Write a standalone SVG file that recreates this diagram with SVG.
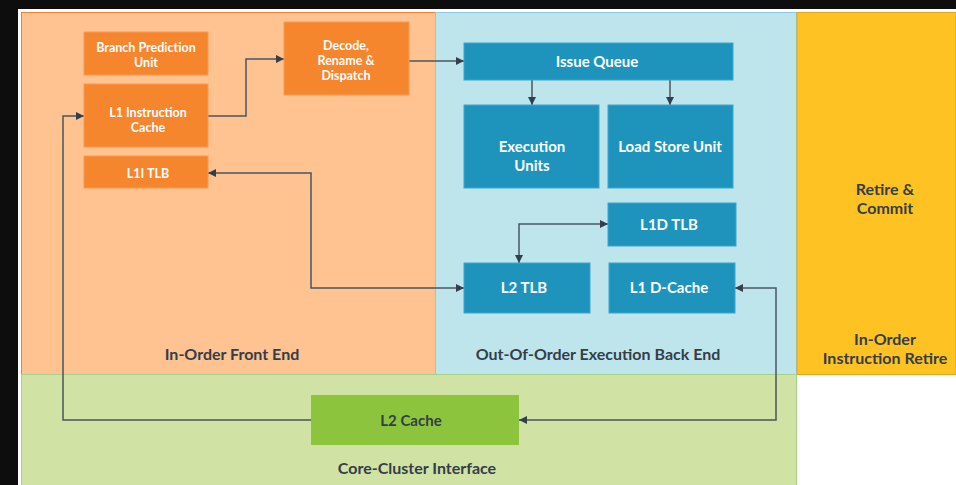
<svg xmlns="http://www.w3.org/2000/svg" width="956" height="485" viewBox="0 0 956 485">
  <defs>
    <marker id="arrow" viewBox="0 0 10 10" refX="10" refY="5" markerWidth="8" markerHeight="8" markerUnits="userSpaceOnUse" orient="auto-start-reverse">
      <path d="M0,0 L10,5 L0,10 z" fill="#333f4a"/>
    </marker>
    <style>
      text { font-family: Lato, "Open Sans", "Liberation Sans", sans-serif; font-weight: bold; text-anchor: middle; dominant-baseline: central; }
      .lite { fill: #ffffff; }
      .dark { fill: #333e49; }
      .s12 { font-size: 12.5px; }
      .s15 { font-size: 15px; }
      .s16 { font-size: 16px; }
      .orange { fill: #f5862e; stroke: #fa9a52; stroke-width: 1; }
      .blue { fill: #1e94bc; stroke: #3aa6cc; stroke-width: 1; }
      .green { fill: #8dc43e; }
      .wire { fill: none; stroke: #4a5661; stroke-width: 1.5; }
    </style>
  </defs>

  <!-- page -->
  <rect x="0" y="0" width="956" height="485" fill="#0d0d0d"/>
  <rect x="18" y="9" width="938" height="476" fill="#ffffff"/>

  <!-- stage panels -->
  <g id="front-end-panel">
    <rect x="21.5" y="12.5" width="414" height="362" fill="#fec391" stroke="#e8843c" stroke-width="1"/>
    <text class="dark s16" x="232" y="353">In-Order Front End</text>
  </g>
  <g id="back-end-panel">
    <rect x="435.5" y="12.5" width="361" height="362" fill="#bee5ec" stroke="#8ec9e6" stroke-width="1"/>
    <text class="dark s16" x="598" y="353">Out-Of-Order Execution Back End</text>
  </g>
  <g id="retire-panel">
    <rect x="797" y="12.5" width="159" height="362" fill="#fec222" stroke="#e0a820" stroke-width="1"/>
    <text class="dark s16" x="885" y="188">Retire &amp;</text>
    <text class="dark s16" x="885" y="207">Commit</text>
    <text class="dark s16" x="885" y="338">In-Order</text>
    <text class="dark s16" x="885" y="357">Instruction Retire</text>
  </g>
  <g id="interface-panel">
    <rect x="21.5" y="374.5" width="775" height="112" fill="#d0e2a4" stroke="#a8d08a" stroke-width="1"/>
    <text class="dark s16" x="417" y="467">Core-Cluster Interface</text>
  </g>

  <!-- connectors -->
  <g id="connectors">
    <path class="wire" d="M208,116 H246 V59 H284" marker-end="url(#arrow)"/>
    <path class="wire" d="M409,61 H464" marker-end="url(#arrow)"/>
    <path class="wire" d="M532,80 V105" marker-end="url(#arrow)"/>
    <path class="wire" d="M670,80 V105" marker-end="url(#arrow)"/>
    <path class="wire" d="M208,173 H311 V288 H464" marker-start="url(#arrow)" marker-end="url(#arrow)"/>
    <path class="wire" d="M608,224 H519 V263" marker-start="url(#arrow)" marker-end="url(#arrow)"/>
    <path class="wire" d="M735,288 H776 V420 H519" marker-start="url(#arrow)" marker-end="url(#arrow)"/>
    <path class="wire" d="M311,420 H63 V116 H84" marker-end="url(#arrow)"/>
  </g>

  <!-- front end -->
  <g id="branch-prediction">
    <rect class="orange" x="84" y="32" width="124" height="43"/>
    <text class="lite s12" x="146" y="47">Branch Prediction</text>
    <text class="lite s12" x="146" y="62">Unit</text>
  </g>
  <g id="l1-icache">
    <rect class="orange" x="84" y="84" width="124" height="63"/>
    <text class="lite s12" x="148" y="112">L1 Instruction</text>
    <text class="lite s12" x="148" y="127">Cache</text>
  </g>
  <g id="l1i-tlb">
    <rect class="orange" x="84" y="156" width="124" height="32"/>
    <text class="lite s12" x="148" y="173">L1I TLB</text>
  </g>
  <g id="decode">
    <rect class="orange" x="284" y="22" width="125" height="73"/>
    <text class="lite s12" x="346" y="45">Decode,</text>
    <text class="lite s12" x="346" y="60">Rename &amp;</text>
    <text class="lite s12" x="346" y="75">Dispatch</text>
  </g>

  <!-- back end -->
  <g id="issue-queue">
    <rect class="blue" x="464" y="43" width="269" height="37"/>
    <text class="lite s15" x="597" y="61">Issue Queue</text>
  </g>
  <g id="execution-units">
    <rect class="blue" x="464" y="105" width="135" height="83"/>
    <text class="lite s15" x="532" y="146">Execution</text>
    <text class="lite s15" x="532" y="165">Units</text>
  </g>
  <g id="load-store-unit">
    <rect class="blue" x="608" y="105" width="125" height="83"/>
    <text class="lite s15" x="670" y="146">Load Store Unit</text>
  </g>
  <g id="l1d-tlb">
    <rect class="blue" x="608" y="203" width="128" height="43"/>
    <text class="lite s15" x="669" y="224">L1D TLB</text>
  </g>
  <g id="l2-tlb">
    <rect class="blue" x="464" y="263" width="126" height="50"/>
    <text class="lite s15" x="524" y="287">L2 TLB</text>
  </g>
  <g id="l1-dcache">
    <rect class="blue" x="609" y="263" width="126" height="50"/>
    <text class="lite s15" x="669" y="287">L1 D-Cache</text>
  </g>

  <!-- interface -->
  <g id="l2-cache">
    <rect class="green" x="311" y="395" width="208" height="50"/>
    <text class="dark s15" x="411" y="420">L2 Cache</text>
  </g>
</svg>
